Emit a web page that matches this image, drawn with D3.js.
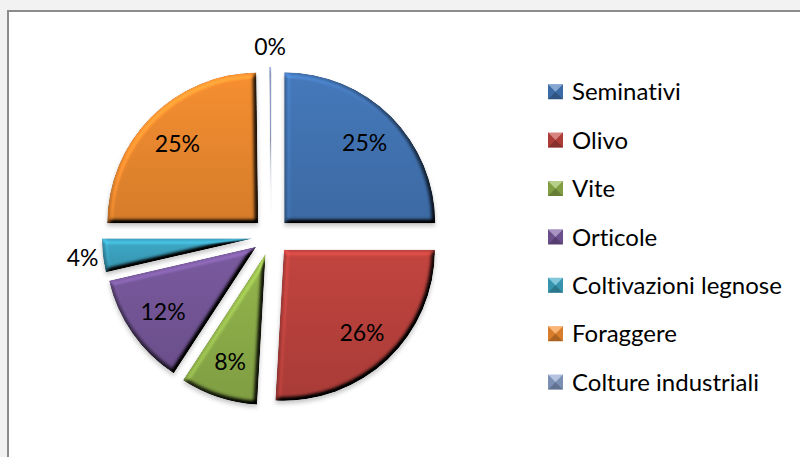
<!DOCTYPE html>
<html lang="it">
<head>
  <title>Ripartizione colture</title>
  <meta charset="UTF-8"/>
  <style>
    body { margin: 0; background: #f2f2f2; }
    text { font-family: Lato, "Noto Sans", sans-serif; fill: #000; font-variant-ligatures: none; }
  </style>
</head>
<body>
<script src="https://cdn.jsdelivr.net/npm/d3@7/dist/d3.min.js"></script>
<script>

// data
var categories = ["Seminativi", "Olivo", "Vite", "Orticole", "Coltivazioni legnose", "Foraggere", "Colture industriali"];
var values     = [25.0, 25.9, 8.3, 12.2, 3.6, 24.8, 0.2];
var labels     = ["25%", "26%", "8%", "12%", "4%", "25%", "0%"];
var colors     = ["#4579bb", "#c2443f", "#93b54c", "#7a5a9f", "#3ea9c7", "#f68f31", "#8ea4d0"];

// layout
var W = 800, H = 457;
var cx = 271.3, cy = 236.3, radius = 151, explode = 18.4;
var rLabelIn = 132, rLabelOut = 190;

var svg = d3.select("body").append("svg")
    .attr("width", W)
    .attr("height", H);

var defs = svg.append("defs");

// bevel + shadow, roughly like the office 3d preset
var f = defs.append("filter").attr("id", "bevel")
    .attr("x", "-15%").attr("y", "-15%").attr("width", "130%").attr("height", "130%")
    .attr("color-interpolation-filters", "sRGB");
f.append("feGaussianBlur").attr("in", "SourceAlpha").attr("stdDeviation", 2.5).attr("result", "blur");
f.append("feDiffuseLighting").attr("in", "blur").attr("surfaceScale", 6).attr("diffuseConstant", 1)
    .attr("lighting-color", "#fff").attr("result", "light")
  .append("feDistantLight").attr("azimuth", 235).attr("elevation", 55);
f.append("feComposite").attr("in", "SourceGraphic").attr("in2", "light").attr("operator", "arithmetic")
    .attr("k1", 1 / Math.sin(55 * Math.PI / 180)).attr("k2", 0).attr("k3", 0).attr("k4", 0).attr("result", "lit");
f.append("feComposite").attr("in", "lit").attr("in2", "SourceAlpha").attr("operator", "in").attr("result", "litIn");
f.append("feGaussianBlur").attr("in", "SourceAlpha").attr("stdDeviation", 2).attr("result", "sblur");
f.append("feOffset").attr("in", "sblur").attr("dx", 0).attr("dy", 3).attr("result", "soff");
f.append("feFlood").attr("flood-color", "#000").attr("flood-opacity", 0.22).attr("result", "sflood");
f.append("feComposite").attr("in", "sflood").attr("in2", "soff").attr("operator", "in").attr("result", "shadow");
var fm = f.append("feMerge");
fm.append("feMergeNode").attr("in", "shadow");
fm.append("feMergeNode").attr("in", "litIn");

// one vertical gradient per series
colors.forEach(function(c, i) {
    var g = defs.append("linearGradient").attr("id", "grad" + i)
        .attr("x1", 0).attr("y1", 0).attr("x2", 0).attr("y2", 1);
    g.append("stop").attr("offset", "0%").attr("stop-color", c);
    g.append("stop").attr("offset", "100%").attr("stop-color", d3.color(c).darker(0.4));
});

// chart area frame
svg.append("rect")
    .attr("x", 8).attr("y", 11)
    .attr("width", W).attr("height", H)
    .attr("fill", "#fff")
    .attr("stroke", "#8c8c8c")
    .attr("stroke-width", 2);

var pie = d3.pie().sort(null).value(function(d) { return d; });
var arcs = pie(values);
var arc = d3.arc().innerRadius(0).outerRadius(radius);

function mid(d) { return (d.startAngle + d.endAngle) / 2; }

var gPie = svg.append("g").attr("transform", "translate(" + cx + "," + cy + ")");

gPie.selectAll("path.slice")
    .data(arcs)
  .enter().append("path")
    .attr("class", "slice")
    .attr("transform", function(d) {
        var a = mid(d);
        return "translate(" + (explode * Math.sin(a)) + "," + (-explode * Math.cos(a)) + ")";
    })
    .attr("d", arc)
    .attr("fill", function(d, i) { return "url(#grad" + i + ")"; })
    .attr("filter", "url(#bevel)");

// data labels: inside for big slices, outside for the small ones
gPie.selectAll("text.lbl")
    .data(arcs)
  .enter().append("text")
    .attr("class", "lbl")
    .attr("x", function(d) { var r = d.value < 5 ? rLabelOut : rLabelIn; return r * Math.sin(mid(d)); })
    .attr("y", function(d) { var r = d.value < 5 ? rLabelOut : rLabelIn; return -r * Math.cos(mid(d)); })
    .attr("dy", "0.36em")
    .attr("text-anchor", "middle")
    .style("font-size", "23px")
    .text(function(d, i) { return labels[i]; });

// legend
var legX = 548, legY = 91.7, legStep = 48.4, sq = 15;
var leg = svg.append("g").selectAll("g")
    .data(categories)
  .enter().append("g")
    .attr("transform", function(d, i) { return "translate(" + legX + "," + (legY + i * legStep) + ")"; });

leg.append("rect")
    .attr("x", 0).attr("y", -sq / 2)
    .attr("width", sq).attr("height", sq)
    .attr("fill", function(d, i) { return colors[i]; });
// little pyramid bevel on the markers
leg.append("path")
    .attr("d", "M0," + (-sq / 2) + "L" + sq + "," + (-sq / 2) + "L" + (sq / 2) + ",0Z")
    .attr("fill", "#fff").attr("fill-opacity", 0.35);
leg.append("path")
    .attr("d", "M0," + (sq / 2) + "L" + sq + "," + (sq / 2) + "L" + (sq / 2) + ",0Z")
    .attr("fill", "#000").attr("fill-opacity", 0.3);
leg.append("path")
    .attr("d", "M0," + (-sq / 2) + "L0," + (sq / 2) + "L" + (sq / 2) + ",0Z M" + sq + "," + (-sq / 2) + "L" + sq + "," + (sq / 2) + "L" + (sq / 2) + ",0Z")
    .attr("fill", "#000").attr("fill-opacity", 0.12);

leg.append("text")
    .attr("x", 24)
    .attr("dy", "0.36em")
    .style("font-size", "24px")
    .text(function(d) { return d; });

</script>
</body>
</html>
